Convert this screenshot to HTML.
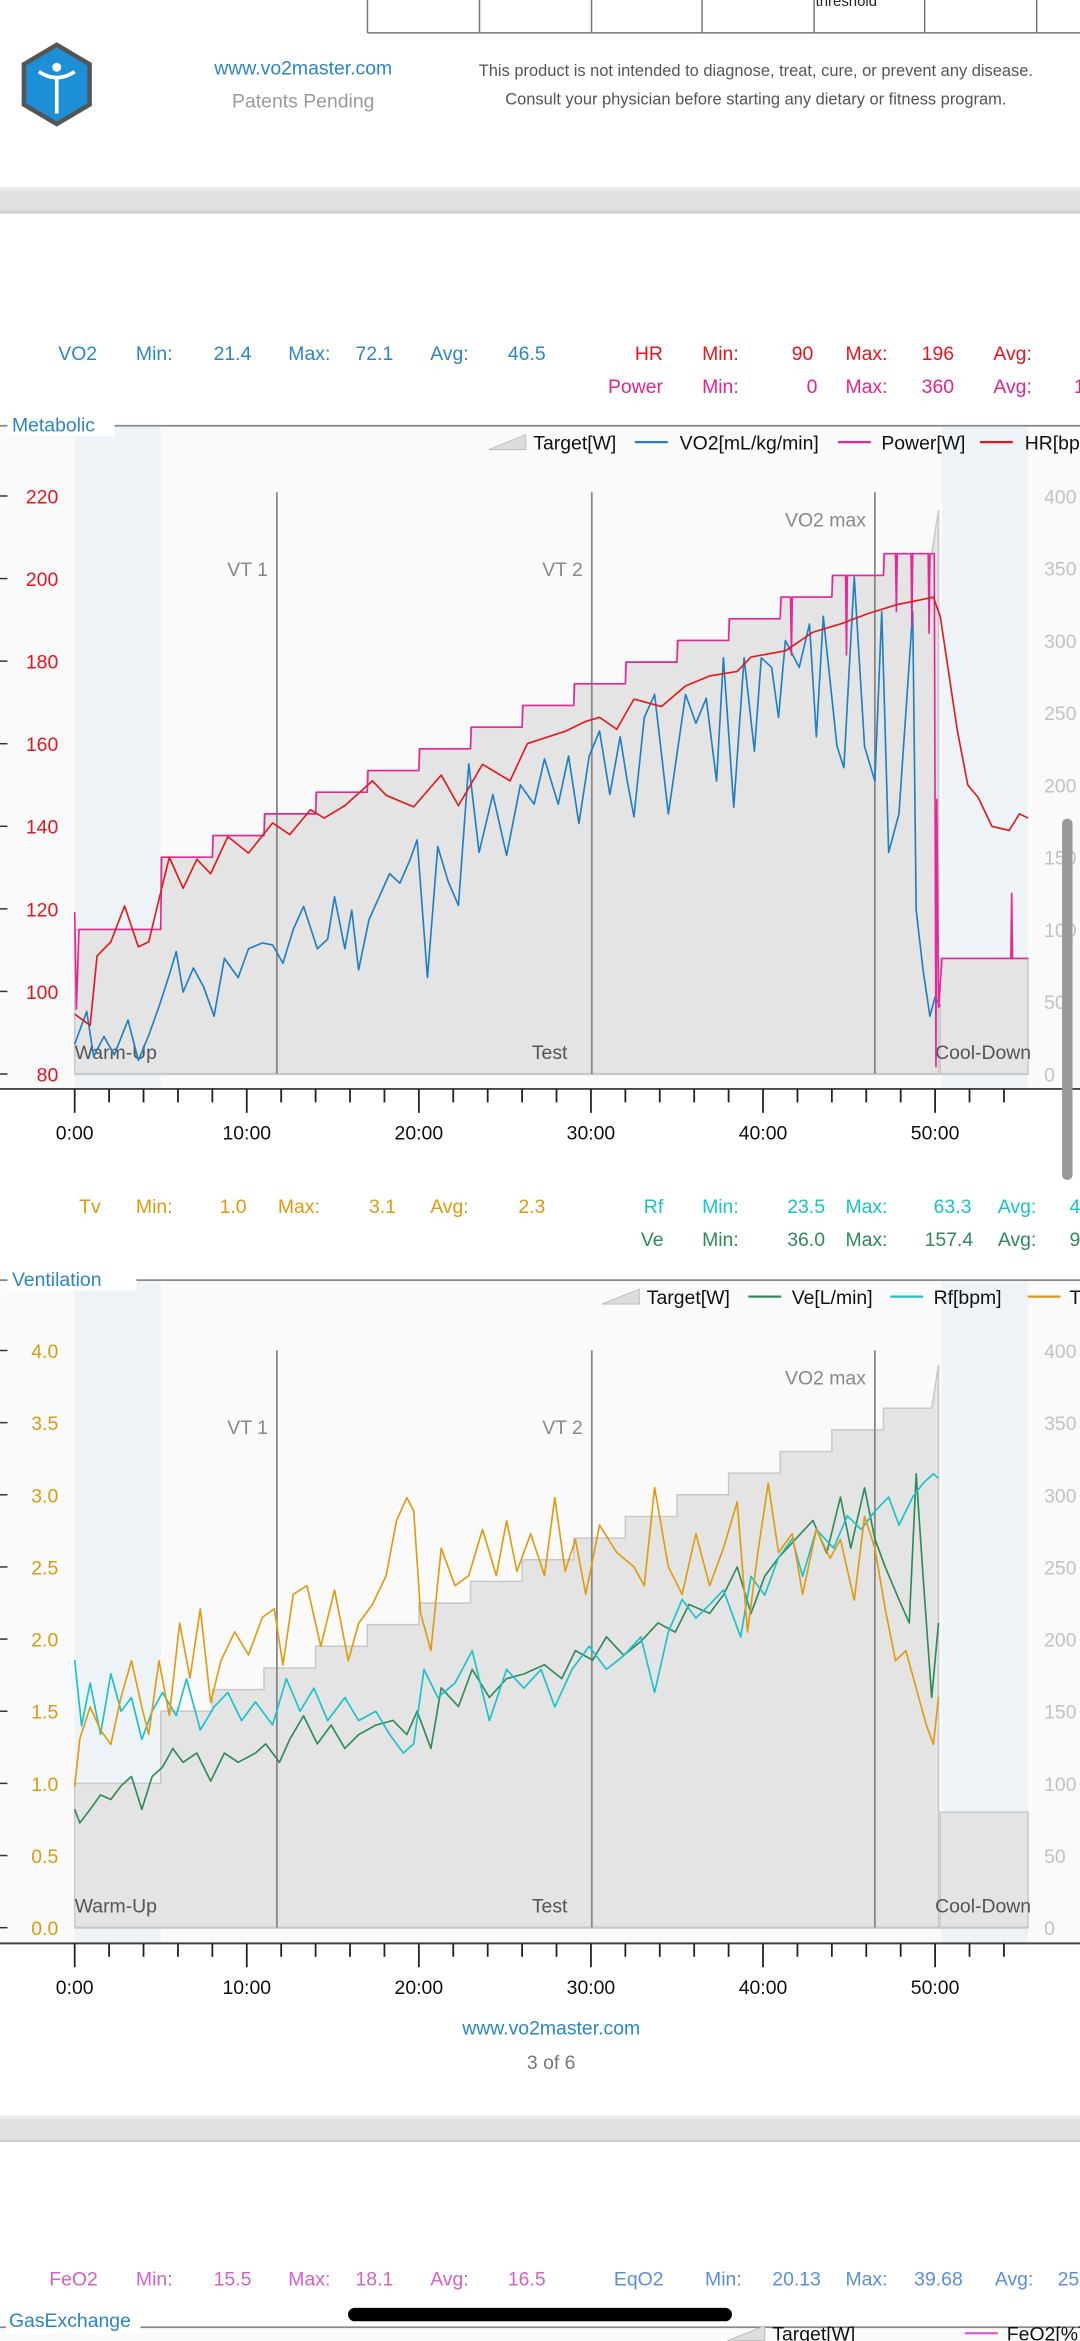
<!DOCTYPE html>
<html><head><meta charset="utf-8"><style>
html,body{margin:0;padding:0;background:#fff;}
svg{display:block;font-family:"Liberation Sans",sans-serif;}
</style></head><body>
<svg id="page" width="1080" height="2341" viewBox="0 0 723 1567.2" preserveAspectRatio="none" xmlns="http://www.w3.org/2000/svg">
<rect x="0" y="0" width="723" height="1567.2" fill="#fff"/>
<!-- top table remnant -->
<g stroke="#777" stroke-width="1" fill="none">
<line x1="246" y1="0" x2="246" y2="22"/><line x1="321" y1="0" x2="321" y2="22"/><line x1="396" y1="0" x2="396" y2="22"/><line x1="470" y1="0" x2="470" y2="22"/><line x1="545" y1="0" x2="545" y2="22"/><line x1="619" y1="0" x2="619" y2="22"/><line x1="694" y1="0" x2="694" y2="22"/><line x1="246" y1="22" x2="723" y2="22"/>
</g>
<text x="546" y="4" font-size="10" fill="#222">threshold</text>
<!-- logo -->
<g>
<polygon points="38,30 60,43 60,70 38,83 16,70 16,43" fill="#1c8fd6" stroke="#555" stroke-width="3"/>
<circle cx="38" cy="45" r="3" fill="#fff"/>
<path d="M26,48 Q38,56 50,48" stroke="#fff" stroke-width="2.5" fill="none"/>
<line x1="38" y1="52" x2="38" y2="76" stroke="#fff" stroke-width="2.5"/>
</g>
<text x="203" y="50" font-size="13" fill="#2a86c8" text-anchor="middle">www.vo2master.com</text>
<text x="203" y="72" font-size="13" fill="#9a9a9a" text-anchor="middle">Patents Pending</text>
<text x="506" y="51" font-size="11" fill="#555" text-anchor="middle">This product is not intended to diagnose, treat, cure, or prevent any disease.</text>
<text x="506" y="70" font-size="11" fill="#555" text-anchor="middle">Consult your physician before starting any dietary or fitness program.</text>
<defs><linearGradient id="band" x1="0" y1="0" x2="0" y2="1"><stop offset="0" stop-color="#f0f0f0"/><stop offset="0.2" stop-color="#e1e1e1"/><stop offset="0.85" stop-color="#e1e1e1"/><stop offset="1" stop-color="#c9c9c9"/></linearGradient></defs>
<rect x="0" y="125" width="723" height="18" fill="url(#band)"/>
<rect x="0" y="1416" width="723" height="18" fill="url(#band)"/>

<!-- metabolic stats -->
<g font-size="13">
<g fill="#2a86c8"><text x="39" y="241">VO2</text><text x="91" y="241">Min:</text><text x="143" y="241">21.4</text><text x="193" y="241">Max:</text><text x="238" y="241">72.1</text><text x="288" y="241">Avg:</text><text x="340" y="241">46.5</text></g>
<g fill="#e8141e"><text x="425" y="241">HR</text><text x="470" y="241">Min:</text><text x="530" y="241">90</text><text x="566" y="241">Max:</text><text x="617" y="241">196</text><text x="665" y="241">Avg:</text></g>
<g fill="#e6238c"><text x="407" y="263">Power</text><text x="470" y="263">Min:</text><text x="540" y="263">0</text><text x="566" y="263">Max:</text><text x="617" y="263">360</text><text x="665" y="263">Avg:</text><text x="719" y="263">1</text></g>
</g>
<!-- ventilation stats -->
<g font-size="13">
<g fill="#dc9a0c"><text x="53" y="812">Tv</text><text x="91" y="812">Min:</text><text x="147" y="812">1.0</text><text x="186" y="812">Max:</text><text x="247" y="812">3.1</text><text x="288" y="812">Avg:</text><text x="347" y="812">2.3</text></g>
<g fill="#17c3c9"><text x="431" y="812">Rf</text><text x="470" y="812">Min:</text><text x="527" y="812">23.5</text><text x="566" y="812">Max:</text><text x="625" y="812">63.3</text><text x="668" y="812">Avg:</text><text x="716" y="812">4</text></g>
<g fill="#2e8b57"><text x="429" y="834">Ve</text><text x="470" y="834">Min:</text><text x="527" y="834">36.0</text><text x="566" y="834">Max:</text><text x="619" y="834">157.4</text><text x="668" y="834">Avg:</text><text x="716" y="834">9</text></g>
</g>

<g id="met"></g>
<g id="vent"></g>

<text x="369" y="1362" font-size="13" fill="#2a86c8" text-anchor="middle">www.vo2master.com</text>
<text x="369" y="1385" font-size="13" fill="#777" text-anchor="middle">3 of 6</text>

<g font-size="13">
<g fill="#d65fc8"><text x="33" y="1530">FeO2</text><text x="91" y="1530">Min:</text><text x="143" y="1530">15.5</text><text x="193" y="1530">Max:</text><text x="238" y="1530">18.1</text><text x="288" y="1530">Avg:</text><text x="340" y="1530">16.5</text></g>
<g fill="#5b8fdc"><text x="411" y="1530">EqO2</text><text x="472" y="1530">Min:</text><text x="517" y="1530">20.13</text><text x="566" y="1530">Max:</text><text x="612" y="1530">39.68</text><text x="666" y="1530">Avg:</text><text x="708" y="1530">25</text></g>
</g>
<line x1="0" y1="1558" x2="723" y2="1558" stroke="#888" stroke-width="1.2"/>
<rect x="0" y="1559" width="723" height="10" fill="#fafafa"/>
<rect x="4" y="1547" width="90" height="16" fill="#fff"/>
<text x="6" y="1558" font-size="13" fill="#2a86c8">GasExchange</text>
<polygon points="487,1567 512,1567 512,1557" fill="#ddd" stroke="#bbb" stroke-width="0.6"/>
<text x="517" y="1567" font-size="13" fill="#111">Target[W]</text>
<line x1="646" y1="1562" x2="668" y2="1562" stroke="#d65fc8" stroke-width="1.5"/>
<text x="674" y="1567" font-size="13" fill="#111">FeO2[%]</text>

<rect x="233" y="1545" width="257" height="9" rx="4.5" fill="#000"/>
<rect x="711" y="548" width="7" height="242" rx="3.5" fill="#999"/>
</svg>
<script>
// ---- shared data ----
const targetStepT = [0,5,8,11,14,17,20,23,26,29,32,35,38,41,44,47];
const targetStepW = [100,150,165,180,195,210,225,240,255,270,285,300,315,330,345,360];
const targetRamp = [[49.8,360],[50.2,390]];
const coolT = [50.3,55.4];
const coolW = 80;
const markerNames = ["VT 1","VT 2","VO2 max"];
const markerT = [11.75,30.05,46.5];
const phaseNames = ["Warm-Up","Test","Cool-Down"];
const phaseT = [0,27.6,50];
const xTickLabels = ["0:00","10:00","20:00","30:00","40:00","50:00"];
const xTickMin = [0,10,20,30,40,50];
const rightTicks = [0,50,100,150,200,250,300,350,400];
// metabolic
const hrTicks = [80,100,120,140,160,180,200,220];
const hrT = [0,0.9,1.3,2.1,2.9,3.7,4.3,5.0,5.5,6.3,7.1,7.9,8.9,10.1,11.5,12.5,13.7,14.5,15.7,17.3,18.1,19.7,21.3,22.3,23.7,25.3,26.3,28.5,29.7,30.5,31.5,32.5,34.1,35.5,36.9,38.5,39.3,41.3,42.9,44.5,46.1,47.7,49.9,50.3,51.3,51.9,52.5,53.3,54.3,54.9,55.4];
const hrV = [94.5,91.8,108.6,112,120.7,110.8,112,124,132.5,125,132,128.5,137.5,133.5,140.8,138,144,142,145,151,147.5,144.7,152.4,145,155,151,160,163,165.4,166.4,163.5,170.8,169,174,176.4,177.5,181,182.5,187,189,191.5,193.6,195.5,190.8,163,150,147,140,139,143,142];
const vo2T = [0,0.7,1.1,1.7,2.3,3.1,3.7,4.3,4.9,5.5,5.9,6.3,6.9,7.5,8.1,8.7,9.5,10.1,10.9,11.5,12.1,12.7,13.3,14.1,14.7,15.1,15.7,16.1,16.5,17.1,17.7,18.3,18.9,19.5,19.9,20.5,21.1,21.7,22.3,22.9,23.5,24.3,25.1,25.9,26.7,27.3,28.1,28.7,29.3,29.9,30.5,31.1,31.7,32.1,32.5,33.1,33.7,34.5,35.5,36.1,36.7,37.3,37.7,38.3,38.9,39.5,39.9,40.5,40.9,41.3,42.1,42.7,43.1,43.5,44.3,44.7,45.3,45.9,46.5,46.9,47.3,47.9,48.7,48.9,49.3,49.7,50.0,50.3];
const vo2V = [23.1,26.5,21.8,23.9,22,25.6,21.4,24,27,30.3,32.7,28.5,31,29,26,32,30,33,33.6,33.4,31.5,35,37.4,33,34,38.4,33,37,30.8,36,38.4,40.8,39.8,42.3,44.3,30,43.6,40,37.5,52.2,43,49,42.7,50,48,52.7,48,53,46,53,55.6,49,55,50.5,46.7,57,59.4,47,59.4,56.4,59,50.4,63.2,47.7,63.2,53.5,63.2,62.2,57,65,62.2,66.7,55,67.5,54,51.8,71.6,54,50.4,68,43,47,68,37,30.8,26,28,27];
const powT = [0,0.1,0.25,5,5.05,8,8.05,11,11.05,14,14.05,17,17.05,20,20.05,23,23.05,26,26.05,29,29.05,32,32.05,35,35.05,38,38.05,41,41.05,41.6,41.65,41.7,44,44.05,44.8,44.85,44.9,47,47.05,47.7,47.75,47.8,48.6,48.65,48.7,49.6,49.65,49.7,49.95,50.05,50.1,50.2,50.4,54.4,54.45,54.5,55.4];
const powW = [112,45,100,100,150,150,165,165,180,180,195,195,210,210,225,225,240,240,255,255,270,270,285,285,300,300,315,315,330,330,290,330,330,345,345,290,345,345,360,360,320,360,360,310,360,360,305,360,360,5,190,46,80,80,125,80,80];
// ventilation
const tvTicks = ["0.0","0.5","1.0","1.5","2.0","2.5","3.0","3.5","4.0"];
const tvT = [0,0.3,0.9,1.5,2.1,2.7,3.3,3.9,4.3,4.9,5.5,6.1,6.7,7.3,7.9,8.5,9.3,10.1,10.9,11.6,12.1,12.7,13.5,14.3,15.1,15.9,16.5,17.3,18.1,18.7,19.3,19.7,20.1,20.7,21.3,22.1,22.9,23.7,24.5,25.1,25.7,26.5,27.3,27.9,28.5,29.1,29.7,30.5,31.5,32.5,33.1,33.7,34.5,35.3,36.1,36.9,37.7,38.5,39.1,39.7,40.3,40.9,41.7,42.3,43.1,43.9,44.5,45.3,45.9,46.5,47.1,47.7,48.3,48.9,49.5,49.9,50.2];
const tvV = [0.98,1.31,1.53,1.37,1.27,1.6,1.85,1.53,1.34,1.85,1.47,2.11,1.73,2.21,1.56,1.85,2.05,1.89,2.15,2.21,1.82,2.31,2.37,1.95,2.34,1.85,2.11,2.24,2.44,2.82,2.98,2.89,2.18,1.92,2.63,2.37,2.44,2.76,2.44,2.82,2.47,2.73,2.44,2.98,2.47,2.69,2.31,2.79,2.6,2.5,2.37,3.05,2.5,2.31,2.73,2.37,2.63,2.95,2.05,2.6,3.08,2.6,2.73,2.31,2.76,2.56,2.69,2.27,2.85,2.63,2.21,1.85,1.92,1.66,1.4,1.27,1.6];
const rfT = [0,0.4,0.9,1.5,2.1,2.7,3.3,3.9,4.5,5.1,5.9,6.5,7.3,8.1,8.9,9.7,10.5,11.5,12.3,13.1,13.9,14.7,15.7,16.5,17.5,18.3,19.1,19.7,20.3,21.1,22.1,23.1,24.1,25.1,26.1,27.1,27.9,28.9,29.9,30.9,31.9,32.9,33.7,34.5,35.3,36.1,36.9,37.7,38.7,39.3,40.1,40.9,41.7,42.3,43.1,44.1,44.9,45.7,46.5,47.3,47.9,48.7,49.3,49.9,50.2];
const rfV = [37.1,28,33.9,26.8,35.2,30,31.9,26.1,30,32.6,29.4,34.5,27.4,30.6,32.6,28.7,31.3,28.1,34.5,30,33.2,28.7,31.9,28.7,30,26.8,24.2,25.5,35.8,31.9,33.9,38.4,28.7,35.8,33.2,35.8,30.6,35.8,39,35.8,37.7,40.3,32.6,41,45.5,42.9,44.8,46.8,40.3,48.7,46.1,51.3,53.9,48.7,55.2,52.6,57.1,55.2,57.7,59.7,55.8,59.7,61.6,62.9,62.3];
const veT = [0,0.3,0.9,1.5,2.1,2.7,3.3,3.9,4.5,5.1,5.7,6.3,7.1,7.9,8.7,9.5,10.5,11.1,11.9,12.5,13.3,14.1,14.9,15.7,16.5,17.5,18.5,19.3,19.9,20.7,21.3,22.3,23.1,24.1,25.1,26.1,27.3,28.3,29.1,30.1,30.9,31.9,32.9,33.9,34.9,35.7,36.9,37.7,38.5,39.3,40.1,40.9,41.9,42.9,43.7,44.5,45.1,45.9,46.5,47.1,47.9,48.5,48.9,49.3,49.8,50.2];
const veV = [41,36.3,41,46,44.4,49.2,52.4,41,52.4,55.6,62.1,57.3,60.5,50.8,60.5,57.3,60.5,63.7,57.3,65.3,73.4,63.7,70.2,62.1,66.9,70.2,71.8,66.9,75,62.1,83.1,76.6,89.5,79.8,86.3,87.9,91.1,86.3,96,92.7,100.8,94.4,99.2,105.6,102.4,112,108.9,115.3,125,108.9,121.8,128.2,134.7,141.1,129.8,149.2,131.5,152.4,134.7,125,113.7,105.6,157.3,121.8,79.8,105.6];

const NS = "http://www.w3.org/2000/svg";
function mk(parent, tag, attrs, text){const e=document.createElementNS(NS,tag);for(const k in attrs)e.setAttribute(k,attrs[k]);if(text!==undefined)e.textContent=text;parent.appendChild(e);return e;}
const X0=50, PX=11.52;
function xs(m){return X0+m*PX;}
function poly(T,V,f){return T.map((t,i)=>xs(t).toFixed(2)+","+f(V[i]).toFixed(2)).join(" ");}

function frame(g, top, headerY, title, base, axisY, pY, leftTicks, leftF, leftColor, legend){
  mk(g,"rect",{x:0,y:headerY,width:723,height:axisY-headerY,fill:"#fafafa"});
  const wb=mk(g,"rect",{x:xs(0),y:headerY,width:xs(5)-xs(0),height:axisY-headerY,fill:"#eef3f8"});
  
  
  const cb=mk(g,"rect",{x:xs(50.4),y:headerY,width:xs(55.4)-xs(50.4),height:axisY-headerY,fill:"#eef3f8"});
  
  
  // target
  let pts=[xs(0)+","+base];
  targetStepT.forEach((t,i)=>{const n=i+1<targetStepT.length?targetStepT[i+1]:targetRamp[0][0];pts.push(xs(t)+","+pY(targetStepW[i]));pts.push(xs(n)+","+pY(targetStepW[i]));});
  pts.push(xs(targetRamp[1][0])+","+pY(targetRamp[1][1]));
  pts.push(xs(targetRamp[1][0])+","+base);
  const tp=mk(g,"polygon",{points:pts.join(" "),fill:"#e4e4e4",stroke:"#c8c8c8","stroke-width":1});
  
  
  const cp=mk(g,"polygon",{points:`${xs(coolT[0])},${base} ${xs(coolT[0])},${pY(coolW)} ${xs(coolT[1])},${pY(coolW)} ${xs(coolT[1])},${base}`,fill:"#e4e4e4",stroke:"#c8c8c8","stroke-width":1});
  
  
  mk(g,"line",{x1:xs(0),y1:base,x2:xs(55.4),y2:base,stroke:"#c8c8c8","stroke-width":1.5});
  // header
  mk(g,"line",{x1:0,y1:headerY,x2:723,y2:headerY,stroke:"#888","stroke-width":1.2});
  mk(g,"rect",{x:5,y:headerY-9,width:title.length*7.3+6,height:16,fill:"#fff"});
  const tt=mk(g,"text",{x:8,y:headerY+4,"font-size":13,fill:"#2a86c8"},title);
  
  
  // markers
  markerT.forEach((t,i)=>{
    const l=mk(g,"line",{x1:xs(t),y1:top,x2:xs(t),y2:base,stroke:"#888","stroke-width":1.2});
    
    
    const ty = i==2? top+23 : top+56;
    const lb=mk(g,"text",{x:xs(t)-6,y:ty,"font-size":13,fill:"#888","text-anchor":"end"},markerNames[i]);
    
    
  });
  phaseNames.forEach((n,i)=>{
    const anchor = i==0?"start":(i==1?"middle":"start");
    const p=mk(g,"text",{x:xs(phaseT[i]),y:base-10,"font-size":13,fill:"#555","text-anchor":anchor},n);
    
    
  });
  // left ticks
  leftTicks.forEach(v=>{
    const y=leftF(v);
    mk(g,"line",{x1:0,y1:y,x2:5,y2:y,stroke:"#333","stroke-width":1});
    const t=mk(g,"text",{x:39,y:y+5,"font-size":13,fill:leftColor,"text-anchor":"end"},typeof v==="string"?v:String(v));
    
    
  });
  rightTicks.forEach(v=>{
    const t=mk(g,"text",{x:v>=100?699:(v>=10?699:699),y:pY(v)+5,"font-size":13,fill:"#c2c2c2"},String(v));
    
    
  });
  // x axis
  mk(g,"line",{x1:0,y1:axisY,x2:723,y2:axisY,stroke:"#444","stroke-width":1.3});
  for(let m=0;m<=54;m+=2){
    const major=m%10===0;
    mk(g,"line",{x1:xs(m),y1:axisY,x2:xs(m),y2:axisY+(major?16:9),stroke:"#222","stroke-width":1.2});
  }
  xTickMin.forEach((m,i)=>{
    const t=mk(g,"text",{x:xs(m),y:axisY+34,"font-size":13,fill:"#111","text-anchor":"middle"},xTickLabels[i]);
    
    
  });
  // legend
  const ly=headerY+16;
  legend.forEach(it=>{
    if(it.tri){mk(g,"polygon",{points:`${it.x},${ly} ${it.x+25},${ly} ${it.x+25},${ly-10}`,fill:"#ddd",stroke:"#bbb","stroke-width":0.6});}
    else mk(g,"line",{x1:it.x,y1:ly-5,x2:it.x+22,y2:ly-5,stroke:it.c,"stroke-width":1.5});
    const t=mk(g,"text",{x:it.tx,y:ly,"font-size":13,fill:"#111"},it.label);
    
    
  });
}
function line(g,T,V,f,color,name){
  const p=mk(g,"polyline",{points:poly(T,V,f),fill:"none",stroke:color,"stroke-width":1.1,"stroke-linejoin":"round"});
  
  
}
// metabolic
(function(){
  const g=document.getElementById("met");
  const base=719, top=329.5;
  const hrY=v=>719-(v-80)*2.764, pY=w=>719-w*0.9675, vo2Y=v=>719-(v-20)*6.45;
  frame(g,top,285,"Metabolic",base,729,pY,hrTicks,hrY,"#e8141e",[
    {tri:1,x:327,tx:357,label:"Target[W]"},{x:425,tx:455,c:"#1f7fc4",label:"VO2[mL/kg/min]"},
    {x:561,tx:590,c:"#e6279a",label:"Power[W]"},{x:656,tx:686,c:"#e31a1c",label:"HR[bpm]"}]);
  line(g,vo2T,vo2V,vo2Y,"#1f7fc4","vo2-line");
  line(g,powT,powW,pY,"#e6279a","power-line");
  line(g,hrT,hrV,hrY,"#e31a1c","hr-line");
})();
// ventilation
(function(){
  const g=document.getElementById("vent");
  const base=1290.5, top=904;
  const tvY=v=>1290.5-v*96.6, rfY=r=>1290.5-r*4.83, veY=v=>1290.5-v*1.932, pY=w=>1290.5-w*0.966;
  frame(g,top,857,"Ventilation",base,1301,pY,tvTicks,v=>tvY(parseFloat(v)),"#dc9a0c",[
    {tri:1,x:403,tx:433,label:"Target[W]"},{x:501,tx:530,c:"#2e8b57",label:"Ve[L/min]"},
    {x:596,tx:625,c:"#17c3c9",label:"Rf[bpm]"},{x:688,tx:716,c:"#e09b0e",label:"Tv[L]"}]);
  line(g,veT,veV,veY,"#2e8b57","ve-line");
  line(g,rfT,rfV,rfY,"#17c3c9","rf-line");
  line(g,tvT,tvV,tvY,"#e09b0e","tv-line");
})();
</script>
</body></html>
